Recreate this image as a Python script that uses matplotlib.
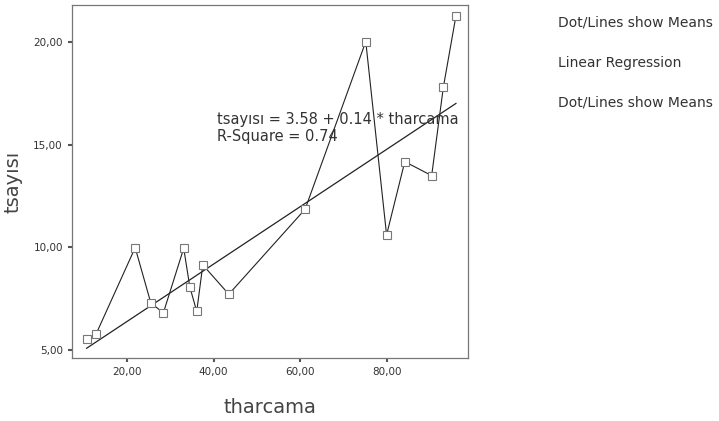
import numpy as np
import matplotlib
matplotlib.use("Agg")
from matplotlib import pyplot as plt

# means
tharcama = [10.7, 12.9, 21.9, 25.5, 28.4, 33.1, 34.5, 36.1, 37.5, 43.5,
            61.1, 75.1, 79.9, 84.1, 90.3, 93.0, 95.9]
tsayisi = [5.52, 5.78, 9.98, 7.29, 6.80, 9.95, 8.07, 6.87, 9.14, 7.71,
           11.85, 20.02, 10.60, 14.17, 13.49, 17.80, 21.27]
b0, b1 = 3.58, 0.14
xticks = [20, 40, 60, 80]
yticks = [5, 10, 15, 20]
legend_items = ["Dot/Lines show Means", "Linear Regression", "Dot/Lines show Means"]

fig = plt.figure(figsize=(7.19, 4.21), dpi=100)
ax = fig.add_axes([0.100, 0.150, 0.551, 0.838])

ax.plot(tharcama, tsayisi, color="#222222", lw=0.8, zorder=2)
ax.plot(tharcama, tsayisi, ls="none", marker="s", ms=6, mfc="white",
        mec="#777777", mew=0.8, zorder=3)
xr = np.array([min(tharcama), max(tharcama)])
ax.plot(xr, b0 + b1 * xr, color="#222222", lw=0.9, zorder=2)

ax.text(40.7, 15.79, "tsayısı = 3.58 + 0.14 * tharcama\nR-Square = 0.74",
        fontsize=10.5, color="#333333", linespacing=1.15, va="center")

ax.set_xlim(7.3, 98.7)
ax.set_ylim(4.61, 21.8)
ax.set_xticks(xticks)
ax.set_yticks(yticks)
ax.set_xticklabels([f"{v},00" for v in xticks], fontsize=7.5, color="#333333")
ax.set_yticklabels([f"{v},00" for v in yticks], fontsize=7.5, color="#333333")
ax.tick_params(direction="out", length=3, width=1.5, color="#555555")
for s in ax.spines.values():
    s.set_linestyle((0, (2, 1)))
    s.set_color("#777777")
    s.set_linewidth(0.9)

ax.set_xlabel("tharcama", fontsize=14, color="#444444", labelpad=15)
ax.set_ylabel("tsayısı", fontsize=14, color="#444444", labelpad=8)

for i, t in enumerate(legend_items):
    fig.text(0.776, 1 - (22 + 40.5 * i) / 421, t, fontsize=10, color="#333333", va="center")

plt.savefig("out.png", dpi=100)
